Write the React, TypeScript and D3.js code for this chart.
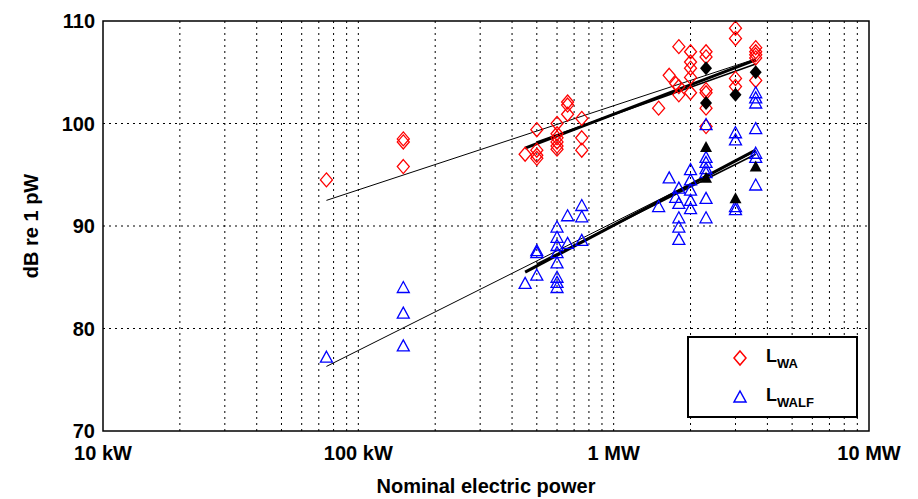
import { useEffect, useRef } from "react"
import * as d3 from "d3"

// power in kW, level in dB
const lwaPower = [75, 150, 150, 150, 450, 500, 500, 500, 500, 600, 600, 600, 600, 600, 600, 660, 660, 660, 750, 750, 750,
  1500, 1650, 1800, 1800, 1800, 1750, 2000, 2000, 2000, 2000, 2000, 2300, 2300, 2300, 2300, 2300, 2300,
  3000, 3000, 3000, 3000, 3600, 3600, 3600, 3600, 3600]
const lwaValue = [94.5, 98.5, 98.2, 95.8, 97.0, 99.4, 97.4, 96.6, 96.9, 100.0, 99.0, 98.6, 98.2, 97.8, 97.5, 102.1, 101.8, 100.9, 100.5, 98.6, 97.4,
  101.5, 104.7, 107.5, 103.6, 102.8, 103.9, 107.0, 106.0, 105.4, 104.5, 103.0, 107.0, 106.5, 103.3, 103.0, 101.5, 99.7,
  109.3, 108.3, 104.4, 103.6, 107.4, 107.0, 106.7, 106.4, 104.2]
const lwalfPower = [75, 150, 150, 150, 450, 500, 500, 500, 600, 600, 600, 600, 600, 600, 600, 600, 660, 660, 750, 750, 750,
  1500, 1650, 1800, 1800, 1800, 1800, 1800, 1750, 2000, 2000, 2000, 2000, 2000, 2300, 2300, 2300, 2300, 2300, 2300, 2300,
  3000, 3000, 3000, 3000, 3600, 3600, 3600, 3600, 3600, 3600, 3600]
const lwalfValue = [77.2, 84.0, 81.5, 78.3, 84.4, 87.4, 87.6, 85.2, 89.9, 88.9, 88.1, 87.4, 86.4, 85.0, 84.5, 84.0, 91.0, 88.3, 92.0, 90.9, 88.6,
  91.9, 94.7, 93.7, 92.2, 90.8, 89.9, 88.7, 92.8, 95.5, 94.5, 93.5, 92.5, 91.7, 99.9, 96.7, 96.2, 95.6, 95.2, 92.7, 90.8,
  99.1, 98.4, 91.9, 91.6, 103.0, 102.5, 102.0, 99.5, 97.1, 96.7, 94.0]
// black (filled) markers
const meanLwaPower = [2300, 2300, 3000, 3600]
const meanLwaValue = [105.4, 102.0, 102.8, 105.0]
const meanLwalfPower = [2300, 2300, 3000, 3600]
const meanLwalfValue = [97.7, 94.7, 92.7, 95.8]
// regression lines [p1, v1, p2, v2, width]
const fitLines = [
  [75, 92.5, 3600, 106.3, 1],
  [450, 97.6, 3600, 106.2, 3],
  [500, 98.2, 3600, 105.8, 1.5],
  [75, 76.3, 3600, 97.3, 1],
  [450, 85.5, 3600, 97.4, 3],
  [500, 86.3, 3600, 97.0, 1.5],
]
const yTicks = [70, 80, 90, 100, 110]
const xTicks = [10, 100, 1000, 10000]
const xTickLabels = ["10 kW", "100 kW", "1 MW", "10 MW"]

const W = 918, H = 499
const left = 103, right = 869, top = 21, bottom = 431

export default function App() {
  const ref = useRef<SVGSVGElement>(null)
  useEffect(() => {
    const svg = d3.select(ref.current)
    svg.selectAll("*").remove()
    const x = d3.scaleLog().domain([10, 10000]).range([left, right])
    const y = d3.scaleLinear().domain([70, 110]).range([bottom, top])
    const font = "Liberation Sans, Arial, sans-serif"

    svg.append("rect").attr("x", left).attr("y", top).attr("width", right - left).attr("height", bottom - top).attr("fill", "white")

    // grid
    const minor: number[] = []
    for (const d of [10, 100, 1000]) for (let k = 2; k <= 9; k++) minor.push(d * k)
    minor.concat([100, 1000]).forEach((v) => {
      svg.append("line").attr("x1", x(v)).attr("x2", x(v)).attr("y1", top).attr("y2", bottom)
        .attr("stroke", "black").attr("stroke-width", 1).attr("stroke-dasharray", "2,4")
    })
    ;[80, 90, 100].forEach((v) => {
      svg.append("line").attr("x1", left).attr("x2", right).attr("y1", y(v)).attr("y2", y(v))
        .attr("stroke", "black").attr("stroke-width", 1).attr("stroke-dasharray", "2,4")
    })

    // fit lines
    fitLines.forEach(([p1, v1, p2, v2, w]) => {
      svg.append("line").attr("x1", x(p1)).attr("y1", y(v1)).attr("x2", x(p2)).attr("y2", y(v2))
        .attr("stroke", "black").attr("stroke-width", w)
    })

    const diamond = (cx: number, cy: number) => `M${cx},${cy - 7}L${cx + 6},${cy}L${cx},${cy + 7}L${cx - 6},${cy}Z`
    const tri = (cx: number, cy: number) => `M${cx},${cy - 6}L${cx + 6},${cy + 5}L${cx - 6},${cy + 5}Z`

    lwaPower.forEach((p, i) => svg.append("path").attr("d", diamond(x(p), y(lwaValue[i])))
      .attr("fill", "none").attr("stroke", "#ff0000").attr("stroke-width", 1.3))
    lwalfPower.forEach((p, i) => svg.append("path").attr("d", tri(x(p), y(lwalfValue[i])))
      .attr("fill", "none").attr("stroke", "#0000ff").attr("stroke-width", 1.3))
    meanLwaPower.forEach((p, i) => svg.append("path").attr("d", diamond(x(p), y(meanLwaValue[i]))).attr("fill", "black"))
    meanLwalfPower.forEach((p, i) => svg.append("path").attr("d", tri(x(p), y(meanLwalfValue[i]))).attr("fill", "black"))

    // axes frame
    svg.append("rect").attr("x", left).attr("y", top).attr("width", right - left).attr("height", bottom - top)
      .attr("fill", "none").attr("stroke", "black").attr("stroke-width", 1.5)

    yTicks.forEach((v) => {
      svg.append("text").attr("x", left - 8).attr("y", y(v) + 7).attr("text-anchor", "end")
        .attr("font-family", font).attr("font-weight", "bold").attr("font-size", 20).text(v)
    })
    xTicks.forEach((v, i) => {
      svg.append("text").attr("x", x(v)).attr("y", bottom + 29).attr("text-anchor", "middle")
        .attr("font-family", font).attr("font-weight", "bold").attr("font-size", 20).text(xTickLabels[i])
    })
    svg.append("text").attr("x", (left + right) / 2).attr("y", 493).attr("text-anchor", "middle")
      .attr("font-family", font).attr("font-weight", "bold").attr("font-size", 20).text("Nominal electric power")
    svg.append("text").attr("transform", `translate(38,${(top + bottom) / 2}) rotate(-90)`).attr("text-anchor", "middle")
      .attr("font-family", font).attr("font-weight", "bold").attr("font-size", 20).text("dB re 1 pW")

    // legend
    const lg = svg.append("g")
    lg.append("rect").attr("x", 688).attr("y", 337).attr("width", 169).attr("height", 80)
      .attr("fill", "white").attr("stroke", "black").attr("stroke-width", 2)
    lg.append("path").attr("d", diamond(740, 358)).attr("fill", "none").attr("stroke", "#ff0000").attr("stroke-width", 1.5)
    lg.append("path").attr("d", tri(740, 397)).attr("fill", "none").attr("stroke", "#0000ff").attr("stroke-width", 1.5)
    const lt = (yy: number, sub: string) => {
      const t = lg.append("text").attr("x", 766).attr("y", yy).attr("font-family", font).attr("font-weight", "bold").attr("font-size", 18)
      t.append("tspan").text("L")
      t.append("tspan").attr("dy", 6).attr("font-size", 13).text(sub)
    }
    lt(362, "WA")
    lt(401, "WALF")
  }, [])
  return <svg ref={ref} width={W} height={H} style={{ position: "absolute", left: 0, top: 0 }} />
}
